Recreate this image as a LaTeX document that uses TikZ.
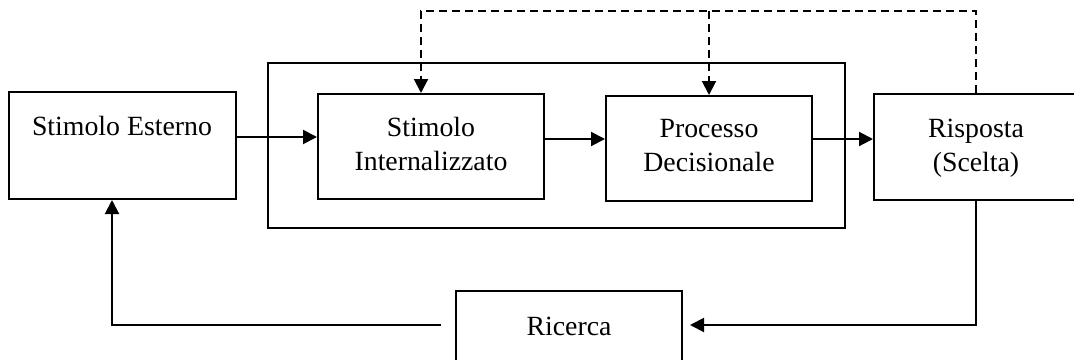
\documentclass[tikz,border=0pt]{standalone}
\usepackage{fontspec}
\setmainfont{Liberation Serif}
\usetikzlibrary{arrows.meta}
\begin{document}
\begin{tikzpicture}[x=0.5pt,y=-0.5pt,
  box/.style={draw,line width=1pt,rectangle,inner sep=0pt},
  lbl/.style={anchor=base,inner sep=0pt,font=\fontsize{13.9pt}{17pt}\selectfont},
  link/.style={line width=1pt,-{Triangle[length=7pt,width=7pt]}},
  plain/.style={line width=1pt},
  feedback/.style={line width=1pt,dash pattern=on 4pt off 2.5pt,-{Triangle[length=7pt,width=7pt]}}]
\useasboundingbox (0,0) rectangle (1074,359);
\clip (0,0) rectangle (1074,359);

% boxes
\node[box,minimum width=113.5pt,minimum height=53.5pt] (se) at (122.5,145.5) {};
\node[box,minimum width=288.5pt,minimum height=82.5pt] (outer) at (556.5,145.5) {};
\node[box,minimum width=113pt,minimum height=52.5pt] (si) at (431,146.5) {};
\node[box,minimum width=103pt,minimum height=52.5pt] (pd) at (709,148.5) {};
\node[box,minimum width=102pt,minimum height=53pt] (ri) at (976,147) {};
\node[box,minimum width=113pt,minimum height=50pt] (rc) at (569,341) {};

% labels
\node[lbl] (tse) at (122,135) {Stimolo Esterno};
\node[lbl] (tsi1) at (431,136) {Stimolo};
\node[lbl] (tsi2) at (431,170) {Internalizzato};
\node[lbl] (tpd1) at (709,137) {Processo};
\node[lbl] (tpd2) at (709,171) {Decisionale};
\node[lbl] (tri1) at (976,137) {Risposta};
\node[lbl] (tri2) at (976,171) {(Scelta)};
\node[lbl] (trc) at (569,335) {Ricerca};

% routing levels
\coordinate (ya) at (0,137);
\coordinate (yb) at (0,139);
\coordinate (ytop) at (0,11);
\coordinate (ybot) at (0,325);
\coordinate (xl) at (421,0);
\coordinate (xs) at (112,0);

% forward chain
\draw[link] (se.east |- ya) -- (si.west |- ya);
\draw[link] (si.east |- yb) -- (pd.west |- yb);
\draw[link] (pd.east |- yb) -- (ri.north west |- yb);

% dashed feedback from the response
\draw[feedback] (ri.north) -- (ri.north |- ytop) -- (xl |- ytop) -- (xl |- si.north);
\draw[feedback] (pd.north |- ytop) -- (pd.north);

% search loop
\draw[link,shorten >=3.5pt] (ri.south) -- (ri.south |- ybot) -- (rc.east |- ybot);
\draw[link,shorten <=7pt] (rc.west |- ybot) -- (xs |- ybot) -- (xs |- se.south);
\end{tikzpicture}
\end{document}
